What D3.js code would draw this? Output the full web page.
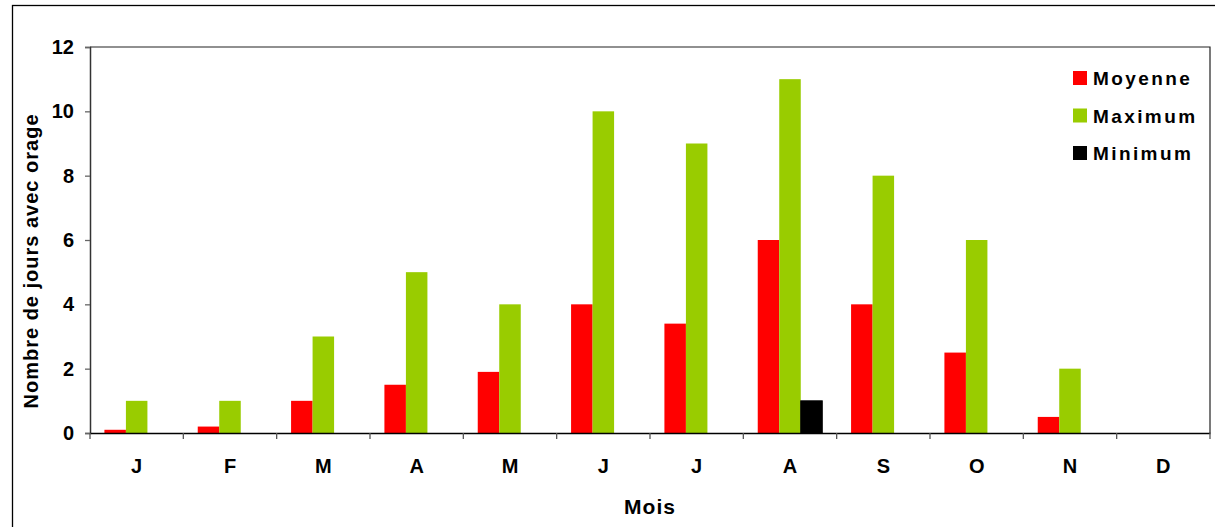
<!DOCTYPE html>
<html><head><meta charset="utf-8">
<script src="https://cdn.jsdelivr.net/npm/d3@7/dist/d3.min.js"></script>
<style>body{margin:0;background:#fff}svg{display:block}text{font-family:"Liberation Sans",Arial,sans-serif;font-weight:bold;fill:#000}</style>
</head><body><svg id="c" width="1215" height="527"></svg>
<script>
const months = ["J","F","M","A","M","J","J","A","S","O","N","D"];
const moyenne = [0.1,0.2,1.0,1.5,1.9,4.0,3.4,6.0,4.0,2.5,0.5,0];
const maximum = [1,1,3,5,4,10,9,11,8,6,2,0];
const minimum = [0,0,0,0,0,0,0,1,0,0,0,0];
const seriesNames = ["Moyenne","Maximum","Minimum"];
const colors = ["#ff0000","#99cc00","#000000"];
const yTicks = [0,2,4,6,8,10,12];

const svg = d3.select("#c");
// outer border
svg.append("rect").attr("x",12.5).attr("y",5.5).attr("width",1210).attr("height",530)
  .attr("fill","none").attr("stroke","#000").attr("stroke-width",1.3);

const L=90,R=1210,T=47,B=433;
const idx = d3.range(months.length);
const x = d3.scaleBand().domain(idx).range([L,R]).paddingInner(0).paddingOuter(0);
const xs = d3.scaleBand().domain([0,1,2]).range([0,x.bandwidth()]).paddingInner(0).paddingOuter(0.67);
const y = d3.scaleLinear().domain([0,12]).range([B,T]);

// plot frame (top, right)
svg.append("path").attr("d",`M${L},${T}H${R}V${B}`).attr("fill","none").attr("stroke","#222").attr("stroke-width",1.2);

const data = [moyenne,maximum,minimum];
data.forEach((arr,s)=>{
  svg.append("g").selectAll("rect").data(idx.filter(i=>arr[i]>0)).join("rect")
    .attr("x",i=>x(i)+xs(s)).attr("width",xs.bandwidth())
    .attr("y",i=>y(arr[i])).attr("height",i=>B-y(arr[i]))
    .attr("fill",colors[s])
    .attr("stroke",s===2?"#000":"none");
});

// y axis
const ya = svg.append("g").attr("transform",`translate(${L},0)`)
  .call(d3.axisLeft(y).tickValues(yTicks).tickSize(5).tickPadding(11));
ya.select(".domain").attr("stroke","#333").attr("stroke-width",1.5);
ya.selectAll(".tick line").attr("stroke","#666").attr("stroke-width",1.3);
ya.selectAll("text").style("font-size","20px").style("font-family","Liberation Sans, Arial, sans-serif").style("font-weight","bold").attr("fill","#000");

// x axis
const xa = svg.append("g").attr("transform",`translate(0,${B})`)
  .call(d3.axisBottom(x).tickValues([]).tickSize(0));
xa.select(".domain").attr("stroke","#000").attr("stroke-width",1.5);
const edges = d3.range(months.length+1).map(i=>L+i*x.bandwidth());
svg.append("g").selectAll("line").data(edges).join("line")
  .attr("x1",d=>d).attr("x2",d=>d).attr("y1",B).attr("y2",B+6)
  .attr("stroke","#555").attr("stroke-width",1.3);
svg.append("g").selectAll("text").data(idx).join("text")
  .attr("x",i=>x(i)+x.bandwidth()/2).attr("y",473)
  .attr("text-anchor","middle").style("font-size","20px").text(i=>months[i]);

// axis titles
svg.append("text").attr("x",650).attr("y",514).attr("text-anchor","middle")
  .style("font-size","21px").style("letter-spacing","1px").text("Mois");
svg.append("text").attr("transform","translate(38,261) rotate(-90)").attr("text-anchor","middle")
  .style("font-size","20px").style("letter-spacing","1px").text("Nombre de jours avec orage");

// legend
const lg = svg.append("g").selectAll("g").data(seriesNames).join("g")
  .attr("transform",(d,i)=>`translate(1073,${71+i*37.5})`);
lg.append("rect").attr("width",14).attr("height",14).attr("fill",(d,i)=>colors[i]);
lg.append("text").attr("x",20).attr("y",14).style("font-size","19px")
  .style("letter-spacing","2.4px").text(d=>d);
</script></body></html>
